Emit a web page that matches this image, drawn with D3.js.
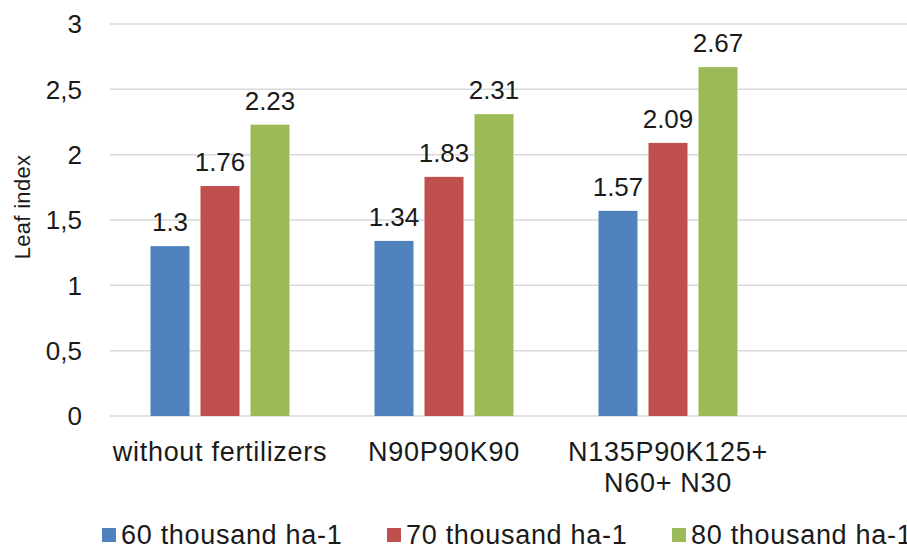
<!DOCTYPE html>
<html>
<head>
<meta charset="utf-8">
<script src="https://cdn.jsdelivr.net/npm/d3@7"></script>
<style>
  body { margin: 0; background: #fff; }
  svg { display: block; font-family: "Liberation Sans", Arial, sans-serif; }
</style>
</head>
<body>
<div id="chart"></div>
<script>
// data
var categories = [["without fertilizers"], ["N90P90K90"], ["N135P90K125+", "N60+ N30"]];
var series = ["60 thousand ha-1", "70 thousand ha-1", "80 thousand ha-1"];
var colors = ["#4f81bd", "#c0504d", "#9bbb59"];
var values60 = [1.3, 1.34, 1.57];
var values70 = [1.76, 1.83, 2.09];
var values80 = [2.23, 2.31, 2.67];
var yTicks = [0, 0.5, 1, 1.5, 2, 2.5, 3];

var width = 907, height = 549;
var allValues = [values60, values70, values80];

var svg = d3.select("#chart").append("svg")
    .attr("width", width)
    .attr("height", height);

var catKeys = categories.map(function (c, i) { return i; });

var x0 = d3.scaleBand().domain(catKeys).range([108, 780]).padding(0);
var x1 = d3.scaleBand().domain(d3.range(series.length))
    .range([0, x0.bandwidth()])
    .paddingInner(0.22)
    .paddingOuter(0.85);
var y = d3.scaleLinear().domain([0, 3]).range([416, 24]);

// gridlines
svg.append("g").selectAll("line")
    .data(yTicks)
    .enter().append("line")
      .attr("x1", 110)
      .attr("x2", width)
      .attr("y1", function (d) { return y(d); })
      .attr("y2", function (d) { return y(d); })
      .attr("stroke", "#d9d9d9")
      .attr("stroke-width", 1.5);

// y tick labels (comma decimals)
svg.append("g").selectAll("text")
    .data(yTicks)
    .enter().append("text")
      .attr("x", 82)
      .attr("y", function (d) { return y(d); })
      .attr("dy", "0.36em")
      .attr("text-anchor", "end")
      .style("font-size", "26px")
      .attr("fill", "#1a1a1a")
      .text(function (d) { return String(d).replace(".", ","); });

// y axis title
svg.append("text")
    .attr("transform", "translate(30,207) rotate(-90)")
    .attr("text-anchor", "middle")
    .style("font-size", "22px")
    .style("letter-spacing", "0.3px")
    .attr("fill", "#1a1a1a")
    .text("Leaf index");

// bars
var groups = svg.append("g").selectAll("g")
    .data(catKeys)
    .enter().append("g")
      .attr("transform", function (d) { return "translate(" + x0(d) + ",0)"; });

groups.selectAll("rect")
    .data(function (c) { return series.map(function (s, j) { return { j: j, v: allValues[j][c] }; }); })
    .enter().append("rect")
      .attr("x", function (d) { return x1(d.j); })
      .attr("width", x1.bandwidth())
      .attr("y", function (d) { return y(d.v); })
      .attr("height", function (d) { return y(0) - y(d.v); })
      .attr("fill", function (d) { return colors[d.j]; });

// value labels
groups.selectAll("text")
    .data(function (c) { return series.map(function (s, j) { return { j: j, v: allValues[j][c] }; }); })
    .enter().append("text")
      .attr("x", function (d) { return x1(d.j) + x1.bandwidth() / 2; })
      .attr("y", function (d) { return y(d.v) - 15; })
      .attr("text-anchor", "middle")
      .style("font-size", "26px")
      .attr("fill", "#1a1a1a")
      .text(function (d) { return d.v; });

// category labels
var catLabels = svg.append("g").selectAll("text")
    .data(catKeys)
    .enter().append("text")
      .attr("x", function (d) { return x0(d) + x0.bandwidth() / 2; })
      .attr("y", 461)
      .attr("text-anchor", "middle")
      .style("font-size", "27px")
      .style("letter-spacing", "0.7px")
      .attr("fill", "#1a1a1a");

catLabels.selectAll("tspan")
    .data(function (d) { return categories[d]; })
    .enter().append("tspan")
      .attr("x", function () { var c = d3.select(this.parentNode).datum(); return x0(c) + x0.bandwidth() / 2; })
      .attr("dy", function (d, i) { return i === 0 ? 0 : 31; })
      .text(function (d) { return d; });

// legend
var legend = svg.append("g").selectAll("g")
    .data(series)
    .enter().append("g")
      .attr("transform", function (d, i) { return "translate(" + (102 + i * 285) + ",528)"; });

legend.append("rect")
    .attr("width", 14)
    .attr("height", 14)
    .attr("fill", function (d, i) { return colors[i]; });

legend.append("text")
    .attr("x", 19)
    .attr("y", 16)
    .style("font-size", "27px")
    .style("letter-spacing", "0.7px")
    .attr("fill", "#1a1a1a")
    .text(function (d) { return d; });
</script>
</body>
</html>
